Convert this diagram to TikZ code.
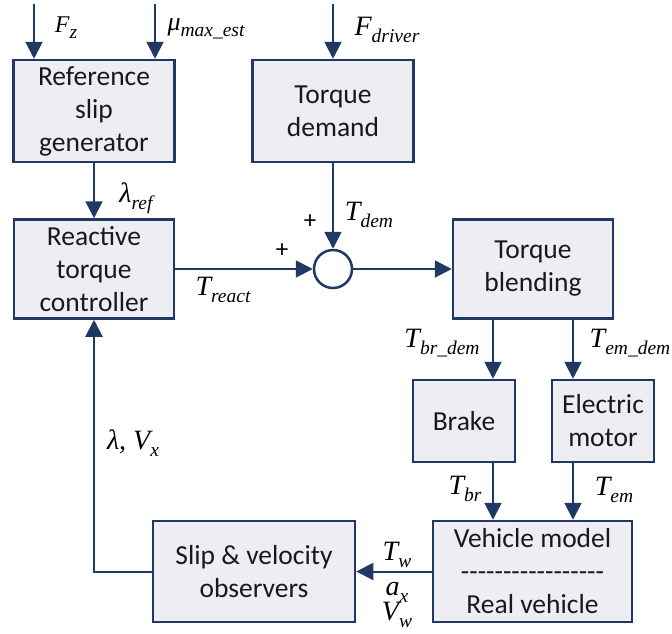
\documentclass[tikz,border=0pt]{standalone}
\usepackage{fontspec}
\newfontfamily\boxfont{Carlito}
\newfontfamily\lblfont{Liberation Serif}
\usetikzlibrary{arrows.meta}

\definecolor{navy}{HTML}{1F3864}
\definecolor{boxgray}{HTML}{EEEEF2}

\newcommand{\dashrow}{\foreach \k in {1,...,17}{\mbox{-}}}
\newcommand{\lowsub}[1]{\raisebox{-0.25em}{\fontsize{19.5}{21}\selectfont #1}}

\tikzset{
  blk/.style={draw=navy, fill=boxgray, line width=2.5pt, align=center, inner sep=0pt,
    text=black!90, font=\boxfont\fontsize{27.5}{33}\selectfont},
  sig/.style={draw=navy, line width=2pt, -{Triangle[width=17pt,length=17pt]}},
  lbl/.style={inner sep=0pt, font=\lblfont\itshape\fontsize{28}{30}\selectfont},
  plus/.style={inner sep=0pt, font=\boxfont\fontsize{25}{26}\selectfont},
}

\begin{document}
\begin{tikzpicture}[x=1pt,y=-1pt]
\useasboundingbox (0,0) rectangle (672,633);

% blocks
\node[blk, minimum width=161pt, minimum height=102pt] (refslip) at (94,111) {Reference\\slip\\generator};
\node[blk, minimum width=161pt, minimum height=102pt] (demand) at (333,111) {Torque\\demand};
\node[blk, minimum width=160pt, minimum height=99pt] (reactive) at (94,269) {Reactive\\torque\\controller};
\node[circle, draw=navy, fill=white, line width=2.5pt, minimum size=38pt, inner sep=0pt] (sum) at (333,269) {};
\node[blk, minimum width=160pt, minimum height=99pt] (blend) at (533,269) {Torque\\blending};
\node[blk, minimum width=102pt, minimum height=82pt] (brake) at (464,421) {Brake};
\node[blk, minimum width=102pt, minimum height=82pt] (motor) at (603,421) {Electric\\motor};
\node[blk, minimum width=199pt, minimum height=101pt] (vehicle) at (532.5,571.5) {Vehicle model\\\dashrow\\Real vehicle};
\node[blk, minimum width=202pt, minimum height=101pt] (observer) at (254,571.5) {Slip \& velocity\\observers};

% free ends and arrow columns
\coordinate (fzin) at (34,4);
\coordinate (muin) at (155,4);
\coordinate (fdin) at (333,4);
\coordinate (brx) at (493,0);
\coordinate (emx) at (573,0);

% signals
\draw[sig] (fzin) -- (fzin |- refslip.north);
\draw[sig] (muin) -- (muin |- refslip.north);
\draw[sig] (fdin) -- (demand.north);
\draw[sig] (refslip) -- (reactive);
\draw[sig] (demand) -- (sum);
\draw[sig] (reactive) -- (sum);
\draw[sig] (sum) -- (blend);
\draw[sig] (blend.south -| brx) -- (brake.north -| brx);
\draw[sig] (blend.south -| emx) -- (motor.north -| emx);
\draw[sig] (brake.south -| brx) -- (vehicle.north -| brx);
\draw[sig] (motor.south -| emx) -- (vehicle.north -| emx);
\draw[sig] (vehicle) -- (observer);
\draw[sig] (observer.west) -| (reactive.south);

% labels
\node[lbl, font=\lblfont\itshape\fontsize{24}{26}\selectfont] (fzlbl) at (66,28) {F\lowsub{z}};
\node[lbl, font=\lblfont\itshape\fontsize{26}{28}\selectfont] (mulbl) at (206,29) {μ\lowsub{max\_est}};
\node[lbl] (fdlbl) at (387,30) {F\lowsub{driver}};
\node[lbl] (reflbl) at (136,198) {λ\lowsub{ref}};
\node[plus] (plustop) at (310,222) {+};
\node[plus] (plusleft) at (282,251) {+};
\node[lbl] (demlbl) at (369,215) {T\lowsub{dem}};
\node[lbl] (reactlbl) at (223,290) {T\lowsub{react}};
\node[lbl] (brdemlbl) at (442,343) {T\lowsub{br\_dem}};
\node[lbl] (emdemlbl) at (630,343) {T\lowsub{em\_dem}};
\node[lbl] (fblbl) at (133,443) {λ, V\lowsub{x}};
\node[lbl] (brlbl) at (465,489) {T\lowsub{br}};
\node[lbl] (emlbl) at (614,490) {T\lowsub{em}};
\node[lbl] (twlbl) at (397,555) {T\lowsub{w}};
\node[lbl] (axlbl) at (397,592) {a\lowsub{x}};
\node[lbl] (vwlbl) at (397,615) {V\lowsub{w}};
\end{tikzpicture}
\end{document}
